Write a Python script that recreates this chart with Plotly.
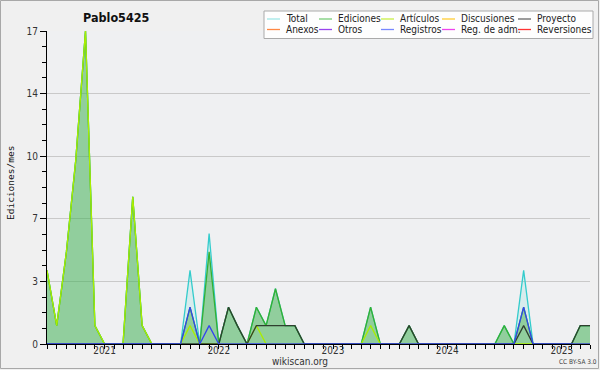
import plotly.graph_objects as go
import pandas as pd

# ---------------- data ----------------
months = pd.date_range("2020-07-01", "2025-04-01", freq="MS")

total = [4, 1, 5, 10, 17, 1, 0, 0, 0, 8, 1, 0,
         0, 0, 0, 4, 0, 6, 0, 2, 1, 0, 2, 1,
         3, 1, 1, 0, 0, 0, 0, 0, 0, 0, 2, 0,
         0, 0, 1, 0, 0, 0, 0, 0, 0, 0, 0, 0,
         1, 0, 4, 0, 0, 0, 0, 0, 1, 1]
ediciones = [4, 1, 5, 10, 17, 1, 0, 0, 0, 8, 1, 0,
             0, 0, 0, 2, 0, 5, 0, 2, 1, 0, 2, 1,
             3, 1, 1, 0, 0, 0, 0, 0, 0, 0, 2, 0,
             0, 0, 1, 0, 0, 0, 0, 0, 0, 0, 0, 0,
             1, 0, 2, 0, 0, 0, 0, 0, 1, 1]
articulos = [4, 1, 5, 10, 17, 1, 0, 0, 0, 8, 1, 0,
             0, 0, 0, 1, 0, 0, 0, 0, 0, 0, 1, 0,
             0, 0, 0, 0, 0, 0, 0, 0, 0, 0, 1, 0,
             0, 0, 0, 0, 0, 0, 0, 0, 0, 0, 0, 0,
             0, 0, 0, 0, 0, 0, 0, 0, 0, 0]
proyecto = [0, 0, 0, 0, 0, 0, 0, 0, 0, 0, 0, 0,
            0, 0, 0, 0, 0, 0, 0, 2, 1, 0, 1, 1,
            1, 1, 1, 0, 0, 0, 0, 0, 0, 0, 0, 0,
            0, 0, 1, 0, 0, 0, 0, 0, 0, 0, 0, 0,
            0, 0, 1, 0, 0, 0, 0, 0, 1, 1]
registros = [0, 0, 0, 0, 0, 0, 0, 0, 0, 0, 0, 0,
             0, 0, 0, 2, 0, 1, 0, 0, 0, 0, 0, 0,
             0, 0, 0, 0, 0, 0, 0, 0, 0, 0, 0, 0,
             0, 0, 0, 0, 0, 0, 0, 0, 0, 0, 0, 0,
             0, 0, 2, 0, 0, 0, 0, 0, 0, 0]

y_tick_vals = [0, 3.4, 6.8, 10.2, 13.6, 17]
y_tick_text = ["0", "3", "7", "10", "14", "17"]
x_tick_vals = ["2021-01-01", "2022-01-01", "2023-01-01", "2024-01-01", "2025-01-01"]
x_tick_text = ["2021", "2022", "2023", "2024", "2025"]

legend_names = ["Total", "Ediciones", "Artículos", "Discusiones", "Proyecto",
                "Anexos", "Otros", "Registros", "Reg. de adm.", "Reversiones"]
legend_colors = ["#9fe6e6", "#77cc77", "#c8ee44", "#ffcc33", "#666666",
                 "#ff8844", "#9944ee", "#7788ff", "#ee44ee", "#ff3333"]

# ---------------- layout geometry ----------------
W_FIG, H_FIG = 600, 370
L, R, T, B = 47, 10, 31, 26
PW, PH = W_FIG - L - R, H_FIG - T - B


def px_x(px):
    return (px - L) / PW


def px_y(py):
    return 1 - (py - T) / PH


FONT = "DejaVu Sans Condensed, DejaVu Sans, sans-serif"

fig = go.Figure()

fig.add_trace(go.Scatter(x=months, y=total, mode="lines", name="Total",
                         line=dict(color="#33cccc", width=1.3),
                         fill="tozeroy", fillcolor="rgba(64,208,208,0.13)"))
fig.add_trace(go.Scatter(x=months, y=ediciones, mode="lines", name="Ediciones",
                         line=dict(color="#33b033", width=1.3),
                         fill="tozeroy", fillcolor="rgba(60,170,60,0.45)"))
fig.add_trace(go.Scatter(x=months, y=articulos, mode="lines", name="Artículos",
                         line=dict(color="#aaee00", width=1.3)))
fig.add_trace(go.Scatter(x=months, y=proyecto, mode="lines", name="Proyecto",
                         line=dict(color="#2f3f2f", width=1.3)))
fig.add_trace(go.Scatter(x=months, y=registros, mode="lines", name="Registros",
                         line=dict(color="#3344ee", width=1.3)))

# ---------------- manual legend ----------------
shapes = []
annotations = []
shapes.append(dict(type="rect", xref="paper", yref="paper",
                   x0=px_x(264), x1=px_x(593), y0=px_y(11), y1=px_y(38.5),
                   fillcolor="rgba(255,255,255,0.92)",
                   line=dict(color="#aaaaaa", width=1), layer="above"))
col_x = [267, 319, 381, 442, 518]
row_y = [19, 29.5]
for i, (name, color) in enumerate(zip(legend_names, legend_colors)):
    cx = col_x[i % 5]
    ry = row_y[i // 5]
    shapes.append(dict(type="line", xref="paper", yref="paper",
                       x0=px_x(cx), x1=px_x(cx + 13), y0=px_y(ry), y1=px_y(ry),
                       line=dict(color=color, width=1.3), layer="above"))
    annotations.append(dict(text=name, xref="paper", yref="paper",
                            x=px_x(cx + 17), y=px_y(ry), xanchor="left", yanchor="middle",
                            showarrow=False, font=dict(family=FONT, size=10, color="#222222")))

# outer border
shapes.append(dict(type="rect", xref="paper", yref="paper",
                   x0=px_x(0.5), x1=px_x(598.5), y0=px_y(0.5), y1=px_y(368.5),
                   line=dict(color="#a8a8a8", width=1), layer="above"))

annotations.append(dict(text="<b>Pablo5425</b>", xref="paper", yref="paper",
                        x=px_x(116), y=px_y(17), xanchor="center", yanchor="middle",
                        showarrow=False, font=dict(family=FONT, size=12.5, color="#111111")))
annotations.append(dict(text="Ediciones/mes", xref="paper", yref="paper",
                        x=px_x(10), y=px_y(183), xanchor="center", yanchor="middle",
                        textangle=-90, showarrow=False,
                        font=dict(family="DejaVu Sans Mono, monospace", size=9.5, color="#111111")))
annotations.append(dict(text="wikiscan.org", xref="paper", yref="paper",
                        x=px_x(300), y=px_y(361), xanchor="center", yanchor="middle",
                        showarrow=False, font=dict(family=FONT, size=10, color="#333333")))
annotations.append(dict(text="CC BY-SA 3.0", xref="paper", yref="paper",
                        x=px_x(578), y=px_y(362), xanchor="center", yanchor="middle",
                        showarrow=False, font=dict(family=FONT, size=6.5, color="#444444")))

fig.update_layout(
    width=W_FIG, height=H_FIG,
    margin=dict(l=L, r=R, t=T, b=B, pad=0),
    paper_bgcolor="#f0f0f0",
    plot_bgcolor="#eff0f2",
    showlegend=False,
    shapes=shapes,
    annotations=annotations,
    xaxis=dict(
        type="date",
        range=["2020-07-01", "2025-04-01"],
        tickmode="array", tickvals=x_tick_vals, ticktext=x_tick_text,
        ticks="outside", ticklen=4, tickcolor="#000000", tickwidth=1,
        ticklabelstandoff=-7,
        showgrid=False, zeroline=False,
        showline=True, linecolor="#000000", linewidth=1,
        tickfont=dict(family=FONT, size=10, color="#333333"),
        minor=dict(dtick="M1", tick0="2020-01-01", ticks="outside", ticklen=4,
                   tickcolor="#000000", showgrid=False),
    ),
    yaxis=dict(
        range=[0, 17],
        tickmode="array", tickvals=y_tick_vals, ticktext=y_tick_text,
        ticks="outside", ticklen=6, tickcolor="#000000", tickwidth=1,
        showgrid=True, gridcolor="#c9c9c9", gridwidth=1,
        zeroline=False,
        showline=True, linecolor="#000000", linewidth=1,
        tickfont=dict(family=FONT, size=10, color="#333333"),
        minor=dict(tick0=0, dtick=0.85, ticks="outside", ticklen=4,
                   tickcolor="#000000", showgrid=False),
    ),
)

fig.write_html("out.html")
